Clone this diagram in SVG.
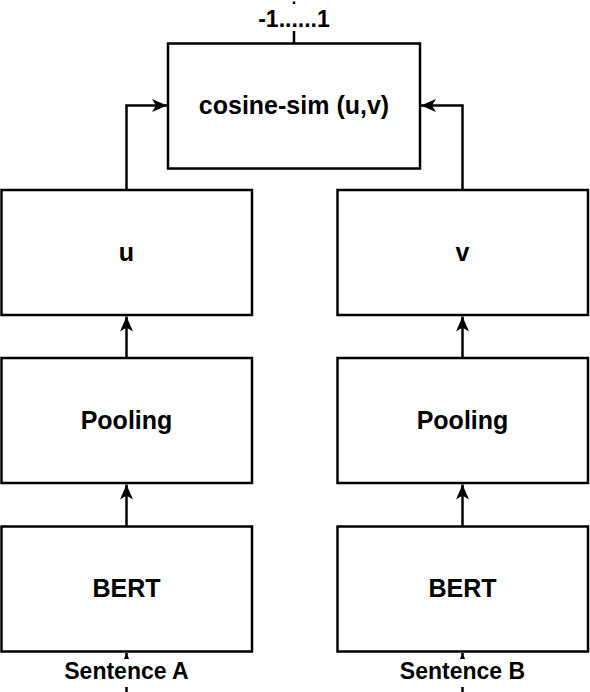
<svg xmlns="http://www.w3.org/2000/svg" width="590" height="692" viewBox="0 0 590 692">
<defs>
<marker id="arr" markerUnits="userSpaceOnUse" markerWidth="18" markerHeight="16" viewBox="-16 -8 18 16" refX="0" refY="0" orient="auto">
<path d="M0,0 L-15,-6.5 L-11,0 L-15,6.5 Z" fill="#000"/>
</marker>
</defs>
<style>
.box{fill:#fff;stroke:#000;stroke-width:2.5}
.t{font-family:"Liberation Sans",Arial,sans-serif;font-weight:bold;font-size:25px;fill:#000;text-anchor:middle}
.lbl{font-family:"Liberation Sans",Arial,sans-serif;font-weight:bold;font-size:23px;fill:#000;text-anchor:middle}
.e{fill:none;stroke:#000;stroke-width:2.5}
</style>
<g id="connectors">
<path class="e" d="M126.5,190 V105.5 H167" marker-end="url(#arr)"/>
<path class="e" d="M462.5,190 V105.5 H421" marker-end="url(#arr)"/>
<path class="e" d="M126.5,358 V316.5" marker-end="url(#arr)"/>
<path class="e" d="M462.5,358 V316.5" marker-end="url(#arr)"/>
<path class="e" d="M126.5,526 V484.5" marker-end="url(#arr)"/>
<path class="e" d="M462.5,526 V484.5" marker-end="url(#arr)"/>
<path class="e" d="M126.5,692 V653" marker-end="url(#arr)"/>
<path class="e" d="M462.5,692 V653" marker-end="url(#arr)"/>
<path class="e" d="M294,43 V1.5"/>
<rect x="250" y="4" width="88" height="27" fill="#fff"/>
<text class="lbl" x="294" y="27">-1......1</text>
<rect x="58" y="659" width="137" height="28" fill="#fff"/>
<text class="lbl" x="126.5" y="679">Sentence A</text>
<rect x="394" y="659" width="137" height="28" fill="#fff"/>
<text class="lbl" x="462.5" y="679">Sentence B</text>
</g>
<g id="cosine">
<rect class="box" x="168" y="43.5" width="252" height="125"/>
<text class="t" x="294" y="114">cosine-sim (u,v)</text>
</g>
<g id="u">
<rect class="box" x="1.5" y="190" width="250.5" height="125"/>
<text class="t" x="126.5" y="261">u</text>
</g>
<g id="v">
<rect class="box" x="337.5" y="190" width="250.5" height="125"/>
<text class="t" x="462.5" y="261">v</text>
</g>
<g id="poolA">
<rect class="box" x="1.5" y="358" width="250.5" height="125"/>
<text class="t" x="126.5" y="429">Pooling</text>
</g>
<g id="poolB">
<rect class="box" x="337.5" y="358" width="250.5" height="125"/>
<text class="t" x="462.5" y="429">Pooling</text>
</g>
<g id="bertA">
<rect class="box" x="1.5" y="526.5" width="250.5" height="125"/>
<text class="t" x="126.5" y="597">BERT</text>
</g>
<g id="bertB">
<rect class="box" x="337.5" y="526.5" width="250.5" height="125"/>
<text class="t" x="462.5" y="597">BERT</text>
</g>
</svg>
